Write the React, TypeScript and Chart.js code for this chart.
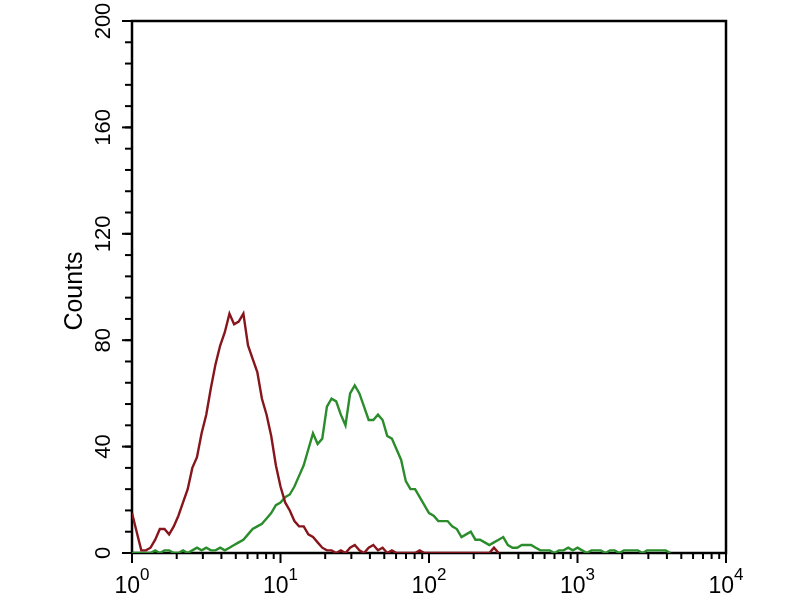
import { useEffect, useRef } from 'react';
import { Chart, registerables } from 'chart.js';

Chart.register(...registerables);

// Histogram channels: 32 bins per decade on a log axis from 10^0 to 10^4
const BINS_PER_DECADE = 32;
const xDecades = [0, 1, 2, 3, 4];
const xMinorMultipliers = [2, 3, 4, 5, 6, 7, 8, 9];
const yMajorTicks = [0, 40, 80, 120, 160, 200];
const yMinorStep = 8;
const yTitle = 'Counts';

const redCounts = [
  15, 8, 1, 1, 2, 5, 9, 9, 7, 10,
  14, 19, 24, 32, 36, 45, 52, 62, 71, 78,
  83, 90, 86, 87, 90, 78, 73, 68, 58, 52,
  44, 33, 25, 19, 16, 12, 10, 10, 7, 6,
  4, 2, 1, 1, 0, 1, 0, 2, 3, 1,
  0, 2, 3, 1, 2, 0, 1, 0, 0, 0,
  0, 0, 1, 0, 0, 0, 0, 0, 0, 0,
  0, 0, 0, 0, 0, 0, 0, 0, 2, 0,
];

const greenCounts = [
  0, 0, 0, 0, 0, 1, 0, 1, 1, 0,
  0, 1, 0, 1, 2, 1, 2, 1, 1, 2,
  1, 2, 3, 4, 5, 7, 9, 10, 11, 13,
  15, 18, 19, 21, 22, 25, 29, 33, 39, 45,
  41, 43, 55, 58, 57, 52, 48, 60, 63, 60,
  55, 50, 50, 52, 50, 44, 43, 39, 35, 27,
  24, 24, 21, 18, 15, 14, 12, 12, 12, 10,
  9, 6, 7, 8, 5, 5, 4, 3, 4, 5,
  6, 3, 2, 2, 3, 3, 3, 2, 1, 1,
  1, 0, 1, 1, 2, 1, 2, 1, 0, 1,
  1, 1, 0, 1, 1, 0, 1, 1, 1, 1,
  0, 1, 1, 1, 1, 1, 0,
];

const toPoints = (counts: number[]) =>
  counts.map((c, i) => ({ x: Math.pow(10, i / BINS_PER_DECADE), y: c }));

const FONT = '"Liberation Sans", Arial, sans-serif';

const axesPlugin = {
  id: 'cytoAxes',
  beforeDatasetsDraw(chart: any) {
    const { ctx, chartArea: a, scales } = chart;
    const xs = scales.x;
    const ys = scales.y;
    ctx.save();
    ctx.strokeStyle = '#000';
    ctx.lineWidth = 2.5;
    ctx.strokeRect(a.left, a.top, a.right - a.left, a.bottom - a.top);
    // x ticks
    ctx.lineWidth = 2;
    for (let d = 0; d < xDecades.length; d++) {
      const base = Math.pow(10, xDecades[d]);
      const px = xs.getPixelForValue(base);
      ctx.beginPath();
      ctx.moveTo(px, a.bottom);
      ctx.lineTo(px, a.bottom + 10);
      ctx.stroke();
      if (d < xDecades.length - 1) {
        for (const m of xMinorMultipliers) {
          const mx = xs.getPixelForValue(base * m);
          ctx.beginPath();
          ctx.moveTo(mx, a.bottom);
          ctx.lineTo(mx, a.bottom + 6);
          ctx.stroke();
        }
      }
    }
    // y ticks
    const yMax = yMajorTicks[yMajorTicks.length - 1];
    for (let v = 0; v <= yMax; v += yMinorStep) {
      const py = ys.getPixelForValue(v);
      ctx.beginPath();
      ctx.moveTo(a.left, py);
      ctx.lineTo(a.left - 7, py);
      ctx.stroke();
    }
    for (const v of yMajorTicks) {
      const py = ys.getPixelForValue(v);
      ctx.beginPath();
      ctx.moveTo(a.left, py);
      ctx.lineTo(a.left - 10, py);
      ctx.stroke();
    }
    ctx.restore();
  },
  afterDraw(chart: any) {
    const { ctx, chartArea: a, scales } = chart;
    const xs = scales.x;
    const ys = scales.y;
    ctx.save();
    ctx.fillStyle = '#000';
    // x labels 10^n
    for (const d of xDecades) {
      const px = xs.getPixelForValue(Math.pow(10, d));
      ctx.font = `23px ${FONT}`;
      const wBase = ctx.measureText('10').width;
      ctx.font = `17px ${FONT}`;
      const exp = String(d);
      const wExp = ctx.measureText(exp).width;
      const start = px - (wBase + wExp) / 2;
      ctx.textAlign = 'left';
      ctx.textBaseline = 'alphabetic';
      ctx.font = `23px ${FONT}`;
      ctx.fillText('10', start, a.bottom + 40);
      ctx.font = `17px ${FONT}`;
      ctx.fillText(exp, start + wBase, a.bottom + 27);
    }
    // y labels rotated
    for (const v of yMajorTicks) {
      const py = ys.getPixelForValue(v);
      ctx.save();
      ctx.translate(a.left - 22, py);
      ctx.rotate(-Math.PI / 2);
      ctx.font = `22px ${FONT}`;
      ctx.textAlign = 'center';
      ctx.textBaseline = 'alphabetic';
      ctx.fillText(String(v), 0, 0);
      ctx.restore();
    }
    // y title
    ctx.save();
    ctx.translate(a.left - 50, (a.top + a.bottom) / 2 + 4);
    ctx.rotate(-Math.PI / 2);
    ctx.font = `25px ${FONT}`;
    ctx.textAlign = 'center';
    ctx.textBaseline = 'alphabetic';
    ctx.fillText(yTitle, 0, 0);
    ctx.restore();
    ctx.restore();
  },
};

export default function App() {
  const canvasRef = useRef<HTMLCanvasElement | null>(null);

  useEffect(() => {
    if (!canvasRef.current) return;
    const chart = new Chart(canvasRef.current, {
      type: 'line',
      data: {
        datasets: [
          {
            label: 'Control',
            data: toPoints(redCounts),
            borderColor: '#86161c',
            borderWidth: 2.4,
            pointRadius: 0,
            tension: 0,
            fill: false,
          },
          {
            label: 'Sample',
            data: toPoints(greenCounts),
            borderColor: '#2b8c2b',
            borderWidth: 2.4,
            pointRadius: 0,
            tension: 0,
            fill: false,
          },
        ],
      },
      options: {
        animation: false,
        responsive: true,
        maintainAspectRatio: false,
        layout: { padding: { left: 132, right: 74, top: 21, bottom: 47 } },
        plugins: { legend: { display: false }, tooltip: { enabled: false } },
        scales: {
          x: { type: 'logarithmic', min: 1, max: 10000, display: false },
          y: { type: 'linear', min: 0, max: 200, display: false },
        },
      },
      plugins: [axesPlugin],
    });
    return () => chart.destroy();
  }, []);

  return (
    <div style={{ position: 'absolute', left: 0, top: 0, width: 800, height: 600, background: '#fff' }}>
      <canvas ref={canvasRef} />
    </div>
  );
}
